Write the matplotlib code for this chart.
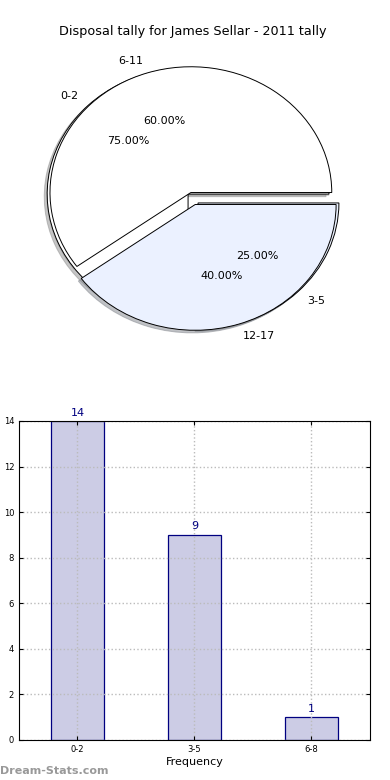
import numpy as np
import matplotlib
matplotlib.use('Agg')
import matplotlib.pyplot as plt

# dados do grafico de pizza (duas series sobrepostas)
pie_labels_a = ['0-2', '3-5']
pie_values_a = [3, 1]
pie_labels_b = ['6-11', '12-17']
pie_values_b = [3, 2]
pie_colors = ['#FFFFFF', '#EBF1FF']

# dados do grafico de barras
bar_labels = ['0-2', '3-5', '6-8']
bar_values = [14, 9, 1]
y_ticks = [0, 2, 4, 6, 8, 10, 12, 14]

title = 'Disposal tally for James Sellar - 2011 tally'


def draw_pie(ax, values, labels):
    wedges, texts, autotexts = ax.pie(values, labels=labels, colors=pie_colors,
                                      explode=[0.05] * len(values),
                                      shadow={'ox': -0.015, 'oy': -0.015, 'shade': 0.45},
                                      autopct='%1.2f%%', startangle=0,
                                      wedgeprops={'edgecolor': 'black', 'linewidth': 0.7})
    for t in texts + autotexts:
        t.set_fontsize(8)
    return wedges


def main():
    fig = plt.figure(figsize=(3.9, 7.8), dpi=100)

    # pizza
    ax1 = fig.add_axes([0.0615, 0.552, 0.867, 0.387])
    draw_pie(ax1, pie_values_a, pie_labels_a)
    draw_pie(ax1, pie_values_b, pie_labels_b)
    ax1.set_aspect('auto')
    ax1.set_xlim(-1.2, 1.2)
    ax1.set_ylim(-1.2, 1.2)
    ax1.axis('off')
    ax1.set_title(title, fontsize=9.2, pad=9)

    # barras
    ax2 = fig.add_axes([0.0487, 0.0513, 0.9, 0.409])
    x = np.arange(len(bar_values))
    ax2.bar(x, bar_values, width=0.45, color='#CCCCE5', edgecolor='#000080',
            linewidth=0.9, zorder=1)
    for xi, v in zip(x, bar_values):
        ax2.text(xi, v + 0.15, str(v), ha='center', va='bottom',
                 color='#000080', fontsize=8)
    ax2.set_xlim(-0.5, 2.5)
    ax2.set_ylim(0, 14)
    ax2.set_xticks(x)
    ax2.set_xticklabels(bar_labels)
    ax2.set_yticks(y_ticks)
    ax2.tick_params(labelsize=6, direction='in', top=True, right=True, length=3)
    ax2.grid(True, linestyle=':', color='#BBBBBB', linewidth=1)
    ax2.set_axisbelow(False)
    for s in ax2.spines.values():
        s.set_zorder(3)
    ax2.set_xlabel('Frequency', fontsize=8, labelpad=2)
    ax2.set_ylabel('Disposal Tally', fontsize=8, labelpad=10)

    fig.text(0.0, 0.005, 'Dream-Stats.com', color='#999999', fontsize=8,
             fontweight='bold', ha='left', va='bottom')

    plt.savefig('out.png', dpi=100)


if __name__ == '__main__':
    main()
